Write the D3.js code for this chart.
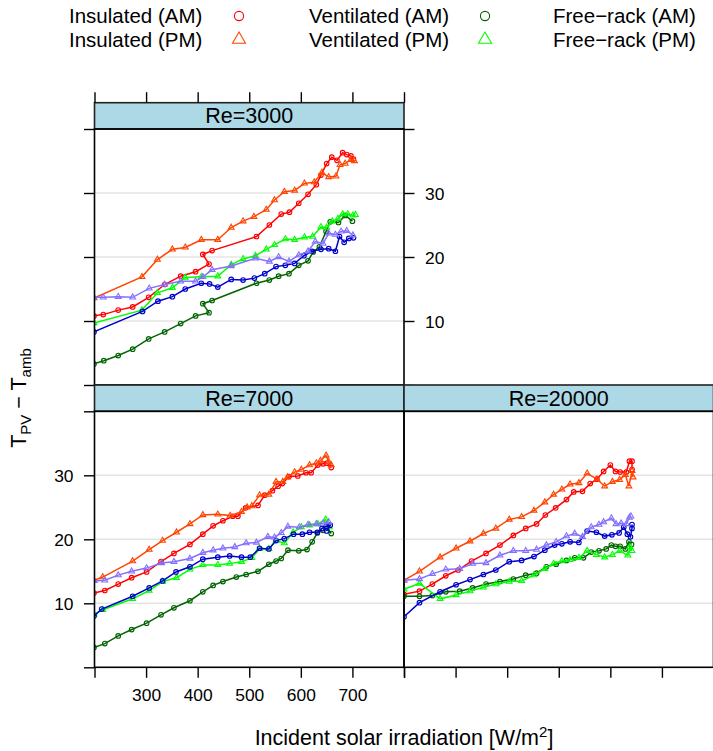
<!DOCTYPE html>
<html>
<head>
<meta charset="utf-8">
<script src="https://cdn.jsdelivr.net/npm/d3@7"></script>
<style>
  body { margin: 0; background: #fff; }
  svg { display: block; }
  text { font-family: "Liberation Sans", Arial, Helvetica, sans-serif; fill: #000; }
</style>
</head>
<body>
<svg id="chart" width="713" height="751"></svg>
<script>
// ---- data -------------------------------------------------------------
const panelNames = ["Re=3000", "Re=7000", "Re=20000"];
const seriesNames = ["Insulated (AM)", "Insulated (PM)", "Ventilated (AM)",
                     "Ventilated (PM)", "Free\u2212rack (AM)", "Free\u2212rack (PM)"];
const seriesColors = ["#ff0000", "#ff4500", "#006400", "#00ff00", "#0000cd", "#8470ff"];
const seriesShapes = ["circle", "triangle", "circle", "triangle", "circle", "triangle"];
const xTicks = [200, 300, 400, 500, 600, 700, 800];
const xTickLabels = ["", "300", "400", "500", "600", "700", ""];
const yTicks = [0, 10, 20, 30, 40];
const yTickLabels = ["", "10", "20", "30", ""];

// irradiation [W/m2], temperature difference [K]
const re3000InsulatedAM = [[199,10.8],[217,11.0],[246,11.7],[274,12.2],[305,13.7],[336,15.7],[367,17.0],[396,17.7],[422,18.9],[410,20.4],[428,21.0],[514,23.2],[539,25.0],[562,26.7],[578,27.0],[596,28.4],[614,29.8],[630,31.3],[639,32.8],[650,34.6],[660,35.6],[670,35.1],[681,36.3],[689,36.0],[697,35.8],[702,35.3]];
const re3000InsulatedPM = [[199,13.6],[292,16.9],[322,19.6],[351,21.2],[376,21.5],[407,22.7],[439,22.7],[465,24.6],[488,25.6],[509,26.3],[533,27.4],[549,28.9],[568,30.2],[588,30.4],[607,31.5],[626,31.7],[641,33.2],[654,32.5],[668,32.6],[676,34.4],[686,34.6],[697,35.2],[704,35.0]];
const re3000VentilatedAM = [[199,3.3],[218,3.8],[246,4.6],[274,5.6],[305,7.2],[336,8.3],[367,9.6],[396,10.8],[422,11.3],[410,12.7],[428,13.2],[514,15.9],[539,16.4],[557,17.0],[577,17.4],[596,18.7],[614,19.4],[624,20.8],[636,21.6],[649,24.0],[657,25.5],[673,25.4],[686,26.5],[700,25.6]];
const re3000VentilatedPM = [[199,9.7],[292,11.7],[322,14.4],[351,15.2],[376,16.8],[407,16.9],[439,17.0],[465,18.8],[488,19.7],[512,20.2],[533,21.2],[549,21.9],[570,22.8],[588,22.7],[607,23.1],[623,23.2],[639,24.7],[650,24.6],[661,25.6],[672,26.0],[681,26.7],[691,26.7],[701,26.5],[706,26.6]];
const re3000FreeAM = [[199,8.3],[293,11.5],[323,13.1],[351,13.8],[376,15.0],[407,15.9],[423,15.8],[439,15.3],[465,16.5],[488,16.4],[510,16.7],[530,17.4],[552,18.5],[570,18.7],[588,19.0],[606,20.2],[622,20.9],[639,21.2],[654,21.3],[667,20.9],[675,23.2],[684,22.3],[693,22.9],[702,23.0]];
const re3000FreePM = [[199,13.7],[217,13.7],[246,13.8],[274,13.7],[306,15.1],[336,15.7],[367,16.2],[396,16.2],[410,16.9],[428,18.0],[465,18.6],[512,19.8],[539,19.3],[557,20.0],[577,19.3],[596,20.3],[614,20.9],[628,22.4],[643,22.1],[654,23.7],[667,23.5],[678,24.0],[689,24.1],[701,23.4]];

const re7000InsulatedAM = [[199,11.6],[220,12.0],[246,13.0],[272,14.0],[301,14.9],[329,16.5],[354,17.8],[385,19.2],[410,20.8],[430,22.1],[449,22.9],[468,23.6],[478,23.6],[493,24.9],[517,25.3],[530,26.9],[545,27.6],[556,28.3],[564,28.7],[577,29.8],[594,29.9],[610,30.4],[620,30.4],[633,31.6],[643,31.8],[651,31.9],[659,31.2]];
const re7000InsulatedPM = [[199,13.6],[216,14.1],[274,16.6],[306,18.4],[332,19.8],[359,21.1],[385,22.4],[410,23.8],[439,23.9],[463,23.7],[485,24.3],[496,25.0],[505,25.2],[520,26.9],[538,27.0],[552,29.0],[565,29.0],[574,29.7],[588,30.5],[601,30.9],[617,31.6],[630,31.9],[638,32.3],[649,33.1],[654,32.1],[659,31.6]];
const re7000VentilatedAM = [[199,3.1],[220,3.7],[246,4.9],[272,5.9],[301,6.9],[329,8.2],[354,9.3],[385,10.4],[410,11.8],[430,12.8],[449,13.4],[475,14.1],[494,14.5],[517,15.0],[538,16.1],[552,16.6],[562,17.0],[575,18.3],[596,18.2],[612,18.4],[622,19.6],[632,21.0],[643,21.4],[651,21.8],[659,20.9]];
const re7000VentilatedPM = [[199,8.3],[216,9.0],[274,10.7],[306,12.0],[332,13.4],[359,14.0],[385,15.3],[410,16.0],[439,16.0],[462,16.2],[485,16.5],[505,17.1],[520,18.5],[538,18.5],[552,19.8],[568,19.4],[585,21.1],[601,21.9],[617,22.2],[633,22.4],[648,23.1],[655,21.9]];
const re7000FreeAM = [[199,8.0],[214,9.1],[274,11.1],[306,12.4],[332,13.5],[358,14.9],[385,15.7],[410,16.9],[439,17.2],[462,17.4],[485,17.2],[502,17.2],[520,18.6],[538,18.5],[552,19.8],[568,20.1],[586,20.8],[603,20.8],[617,21.1],[632,21.1],[641,21.7],[649,22.0],[657,22.2],[650,21.3]];
const re7000FreePM = [[199,13.5],[220,13.6],[246,14.4],[272,15.0],[301,15.5],[330,16.3],[354,16.5],[385,17.0],[410,17.9],[430,18.3],[449,18.6],[472,18.8],[494,19.4],[514,19.5],[536,20.4],[549,20.3],[562,21.0],[575,22.0],[597,21.9],[614,22.3],[630,22.4],[643,22.5],[654,22.7]];

const re20000InsulatedAM = [[200,11.4],[230,11.9],[255,13.0],[281,14.3],[305,15.2],[331,16.6],[359,17.8],[386,19.1],[412,20.6],[436,21.7],[457,22.4],[474,23.8],[494,24.9],[515,26.2],[529,27.4],[546,27.5],[561,28.7],[574,29.4],[587,30.6],[600,31.6],[610,30.6],[619,30.5],[631,30.5],[637,32.2],[642,32.2],[642,30.9]];
const re20000InsulatedPM = [[200,13.6],[230,15.0],[270,17.2],[301,18.6],[328,19.7],[354,20.9],[378,21.7],[404,23.1],[428,23.5],[452,24.5],[473,25.8],[490,27.0],[506,27.8],[522,28.6],[539,28.8],[555,30.3],[574,29.4],[589,28.3],[604,29.0],[618,29.3],[629,30.1],[636,28.3],[642,30.7],[644,29.7]];
const re20000VentilatedAM = [[200,11.1],[230,11.1],[255,11.2],[281,11.8],[308,11.9],[333,12.4],[359,13.0],[386,13.4],[412,13.8],[436,14.4],[457,14.7],[476,15.7],[495,16.1],[515,16.7],[531,17.1],[548,17.1],[563,18.0],[578,18.2],[592,18.5],[602,19.1],[610,18.9],[619,18.9],[629,18.5],[636,19.6],[641,19.2]];
const re20000VentilatedPM = [[200,12.2],[230,13.1],[270,10.7],[301,11.3],[328,11.9],[354,12.5],[378,13.0],[404,13.4],[428,13.5],[452,14.4],[473,15.4],[490,16.2],[506,16.6],[522,16.8],[539,17.1],[555,18.2],[573,17.6],[589,17.2],[604,17.6],[618,18.2],[634,17.5],[638,18.8],[642,18.2]];
const re20000FreeAM = [[200,7.9],[230,10.1],[270,11.8],[301,12.9],[328,13.7],[354,14.5],[378,15.2],[404,16.5],[428,16.7],[452,17.3],[473,18.3],[492,19.1],[506,19.3],[522,19.6],[539,19.5],[555,21.3],[573,21.1],[589,20.5],[603,20.7],[617,21.0],[626,21.9],[633,20.8],[639,20.4],[642,21.7],[642,22.3]];
const re20000FreePM = [[200,13.6],[230,13.8],[255,14.6],[281,15.3],[308,15.4],[333,16.2],[359,16.3],[386,17.5],[412,18.2],[436,18.2],[457,18.4],[476,19.1],[495,19.6],[515,20.5],[531,20.9],[546,20.4],[563,21.9],[578,22.3],[587,22.7],[602,23.3],[611,22.4],[621,22.5],[631,22.4],[637,23.4],[640,23.6]];

const panelData = [
  [re3000InsulatedAM, re3000InsulatedPM, re3000VentilatedAM, re3000VentilatedPM, re3000FreeAM, re3000FreePM],
  [re7000InsulatedAM, re7000InsulatedPM, re7000VentilatedAM, re7000VentilatedPM, re7000FreeAM, re7000FreePM],
  [re20000InsulatedAM, re20000InsulatedPM, re20000VentilatedAM, re20000VentilatedPM, re20000FreeAM, re20000FreePM]
];

// ---- layout -----------------------------------------------------------
const svg = d3.select("#chart");
const FONT_AXIS = 17.4, FONT_TEXT = 21.5, FONT_KEY = 20.5;
const colX = [94.5, 404];
const panelW = 309.5, stripH = 26.3, plotH = 256;
const rowTop = [102.7, 385];          // strip tops
const panelPos = [ {col: 0, row: 0}, {col: 0, row: 1}, {col: 1, row: 1} ];
const tickLen = 10.5;

function trianglePath(cx, cy, s) {
  const h = s * Math.sqrt(3) / 2;
  return `M${cx},${cy - h * 2 / 3}L${cx + s / 2},${cy + h / 3}L${cx - s / 2},${cy + h / 3}Z`;
}

function drawSymbol(g, shape, cx, cy, color, r, side) {
  if (shape === "circle") {
    g.append("circle").attr("cx", cx).attr("cy", cy).attr("r", r)
      .attr("fill", "none").attr("stroke", color).attr("stroke-width", 1.1);
  } else {
    g.append("path").attr("d", trianglePath(cx, cy, side))
      .attr("fill", "none").attr("stroke", color).attr("stroke-width", 1.1);
  }
}

const defs = svg.append("defs");

panelPos.forEach((p, i) => {
  const x0 = colX[p.col];
  const sTop = rowTop[p.row];
  const pTop = sTop + stripH;
  const pBot = pTop + plotH;
  const x = d3.scaleLinear().domain([200, 800]).range([x0, x0 + panelW]);
  const y = d3.scaleLinear().domain([0, 40]).range([pBot, pTop]);

  const g = svg.append("g");

  // grid
  g.append("g").selectAll("line").data([10, 20, 30]).join("line")
    .attr("x1", x0).attr("x2", x0 + panelW)
    .attr("y1", d => y(d)).attr("y2", d => y(d))
    .attr("stroke", "#e4e4e4").attr("stroke-width", 1.5);

  // series
  defs.append("clipPath").attr("id", "clip" + i)
    .append("rect").attr("x", x0).attr("y", pTop).attr("width", panelW).attr("height", plotH);
  const dg = g.append("g").attr("clip-path", `url(#clip${i})`);
  const line = d3.line().x(d => x(d[0])).y(d => y(d[1]));
  panelData[i].forEach((pts, s) => {
    const sg = dg.append("g");
    sg.append("path").datum(pts).attr("d", line)
      .attr("fill", "none").attr("stroke", seriesColors[s]).attr("stroke-width", 1.5);
    pts.forEach(d => drawSymbol(sg, seriesShapes[s], x(d[0]), y(d[1]), seriesColors[s], 2.3, 5.8));
  });

  // strip
  g.append("rect").attr("x", x0).attr("y", sTop).attr("width", panelW).attr("height", stripH)
    .attr("fill", "#add8e6").attr("stroke", "#222").attr("stroke-width", 1.6);
  g.append("text").attr("x", x0 + panelW / 2).attr("y", sTop + stripH / 2 + 7.6)
    .attr("text-anchor", "middle").attr("font-size", FONT_TEXT).text(panelNames[i]);

  // panel border
  g.append("rect").attr("x", x0).attr("y", pTop).attr("width", panelW).attr("height", plotH)
    .attr("fill", "none").attr("stroke", "#000").attr("stroke-width", 1.6);

  const styleAxis = a => {
    a.select(".domain").remove();
    a.selectAll(".tick line").attr("stroke", "#000").attr("stroke-width", 1.4);
    a.selectAll("text").attr("font-size", FONT_AXIS)
      .attr("font-family", '"Liberation Sans", Arial, Helvetica, sans-serif').attr("fill", "#000");
  };
  const noLabel = () => "";

  if (p.row === 0) {
    // top ticks above the strip, left ticks, labelled right axis
    svg.append("g").attr("transform", `translate(0,${sTop})`)
      .call(d3.axisTop(x).tickValues(xTicks).tickFormat(noLabel).tickSize(tickLen)).call(styleAxis);
    svg.append("g").attr("transform", `translate(${x0},0)`)
      .call(d3.axisLeft(y).tickValues(yTicks).tickFormat(noLabel).tickSize(tickLen)).call(styleAxis);
    svg.append("g").attr("transform", `translate(${x0 + panelW},0)`)
      .call(d3.axisRight(y).tickValues(yTicks).tickFormat((d, k) => yTickLabels[k])
        .tickSize(tickLen).tickPadding(10.5)).call(styleAxis)
      .selectAll("text").attr("dy", "0.36em");
  } else {
    const showX = p.col === 0;
    svg.append("g").attr("transform", `translate(0,${pBot})`)
      .call(d3.axisBottom(x).tickValues(xTicks)
        .tickFormat(showX ? (d, k) => xTickLabels[k] : noLabel)
        .tickSize(tickLen).tickPadding(11)).call(styleAxis);
    if (p.col === 0) {
      svg.append("g").attr("transform", `translate(${x0},0)`)
        .call(d3.axisLeft(y).tickValues(yTicks).tickFormat((d, k) => yTickLabels[k])
          .tickSize(tickLen).tickPadding(10.5)).call(styleAxis)
        .selectAll("text").attr("dy", "0.36em");
    }
  }
});

// ---- axis titles ------------------------------------------------------
const xTitle = svg.append("text").attr("x", 404).attr("y", 744.5)
  .attr("text-anchor", "middle").attr("font-size", FONT_TEXT);
xTitle.append("tspan").text("Incident solar irradiation [W/m");
xTitle.append("tspan").attr("dy", -8).attr("font-size", 15).text("2");
xTitle.append("tspan").attr("dy", 8).text("]");

const yTitle = svg.append("text").attr("transform", "translate(26,398) rotate(-90)")
  .attr("text-anchor", "middle").attr("font-size", FONT_TEXT);
yTitle.append("tspan").text("T");
yTitle.append("tspan").attr("dy", 5).attr("font-size", 15).text("PV");
yTitle.append("tspan").attr("dy", -5).text(" \u2212 T");
yTitle.append("tspan").attr("dy", 5).attr("font-size", 15).text("amb");

// ---- legend -----------------------------------------------------------
const legendCols = [{tx: 69, sx: 239}, {tx: 309, sx: 485}, {tx: 553, sx: null}];
const legendRows = [16, 39.5];
const lg = svg.append("g");
seriesNames.forEach((name, s) => {
  const c = legendCols[Math.floor(s / 2)];
  const cy = legendRows[s % 2];
  lg.append("text").attr("x", c.tx).attr("y", cy + 7.2).attr("font-size", FONT_KEY)
    .attr("textLength", null).text(name);
  if (c.sx !== null) drawSymbol(lg, seriesShapes[s], c.sx, cy, seriesColors[s], 4.6, 13);
});
</script>
</body>
</html>
